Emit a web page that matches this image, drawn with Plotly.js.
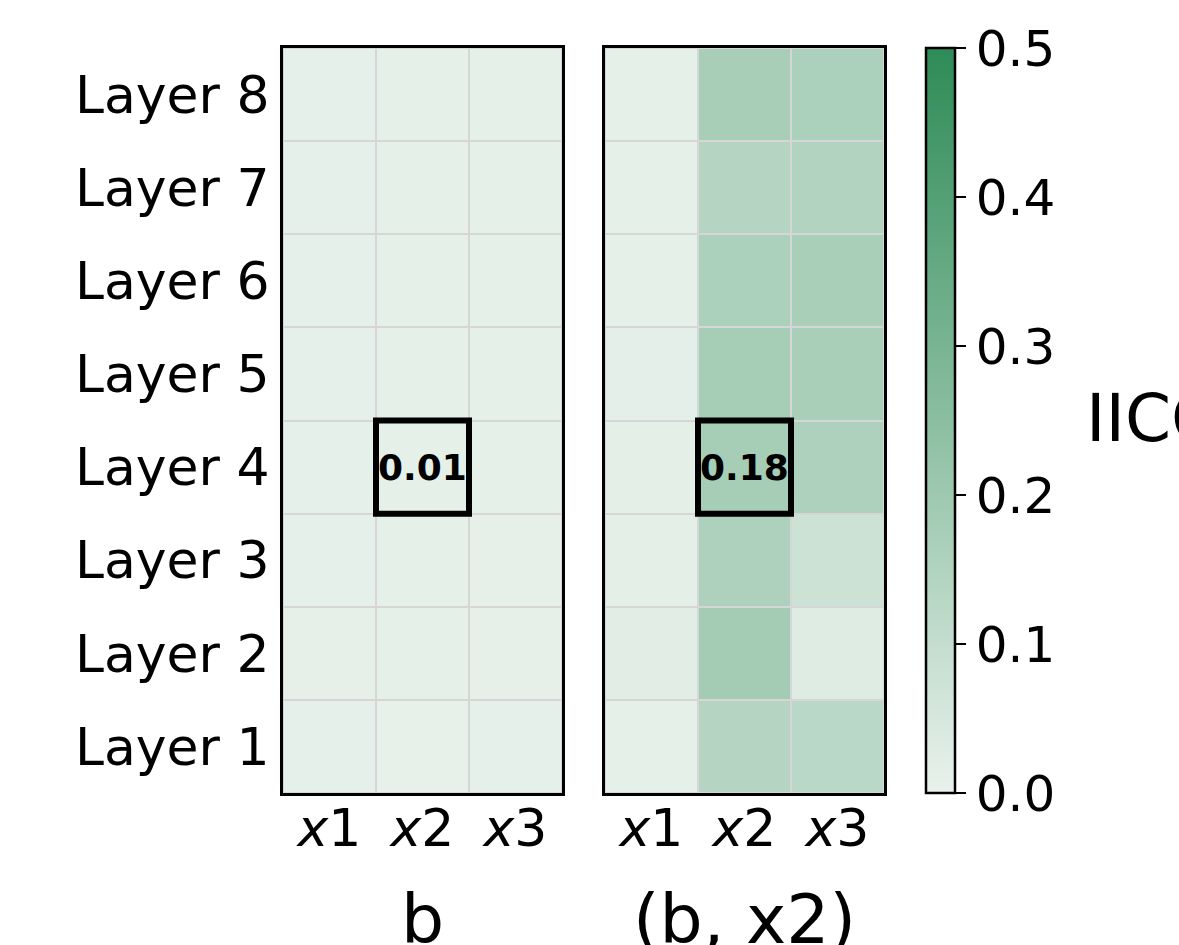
<!DOCTYPE html>
<html>
<head>
<meta charset="utf-8">
<script src="https://cdn.plot.ly/plotly-3.0.1.min.js"></script>
<style>
  html, body { margin: 0; padding: 0; background: #fff; }
  #chart { width: 1179px; height: 945px; }
</style>
</head>
<body>
<div id="chart"></div>
<script>
// Input features (columns) and layers (rows, bottom to top)
const features = ['x1', 'x2', 'x3'];
const featureLabels = ['<i>x</i>1', '<i>x</i>2', '<i>x</i>3'];
const layers = ['Layer 1', 'Layer 2', 'Layer 3', 'Layer 4', 'Layer 5', 'Layer 6', 'Layer 7', 'Layer 8'];

// Panel titles
const panelTitles = ['b', '(b, x2)'];
const colorbarTitle = 'IICC';

// Scores for target "b": one row per layer, columns x1, x2, x3
const scoresB = [
  [0.008, 0.006, 0.008],
  [0.009, 0.012, 0.009],
  [0.008, 0.011, 0.009],
  [0.008, 0.010, 0.011],
  [0.008, 0.012, 0.010],
  [0.008, 0.011, 0.010],
  [0.008, 0.012, 0.011],
  [0.008, 0.012, 0.011]
];

// Scores for pair "(b, x2)"
const scoresBX2 = [
  [0.010, 0.140, 0.125],
  [0.022, 0.185, 0.030],
  [0.016, 0.160, 0.080],
  [0.016, 0.180, 0.160],
  [0.015, 0.180, 0.170],
  [0.012, 0.165, 0.170],
  [0.010, 0.140, 0.150],
  [0.012, 0.175, 0.165]
];

// Highlighted cell (feature, layer)
const highlightFeature = 'x2';
const highlightLayer = 'Layer 4';

const W = 1179, H = 945;
const px = v => v / W;
const py = v => 1 - v / H;

const FONT = 'DejaVu Sans, Liberation Sans, sans-serif';

const colorscale = [
  [0, 'rgb(233,242,236)'],
  [1, 'rgb(46,139,87)']
];

function heat(z, xa, ya) {
  return {
    type: 'heatmap',
    x: features,
    y: layers,
    z: z,
    coloraxis: 'coloraxis',
    xaxis: xa,
    yaxis: ya,
    xgap: 2,
    ygap: 2,
    hoverinfo: 'skip'
  };
}

const data = [
  heat(scoresB, 'x', 'y'),
  heat(scoresBX2, 'x2', 'y2')
];

const yDomain = [py(793), py(48)];

function xAxis(domain, anchor) {
  return {
    domain: domain,
    anchor: anchor,
    type: 'category',
    range: [-0.5, 2.5],
    tickvals: features,
    ticktext: featureLabels,
    ticks: '',
    ticklabelstandoff: -12,
    tickfont: { family: FONT, size: 52, color: '#000' },
    showline: true,
    mirror: true,
    linecolor: '#000',
    linewidth: 3,
    showgrid: false,
    zeroline: false,
    fixedrange: true
  };
}

function yAxis(anchor, showLabels) {
  return {
    domain: yDomain,
    anchor: anchor,
    type: 'category',
    range: [-0.5, 7.5],
    tickvals: layers,
    ticktext: layers,
    showticklabels: showLabels,
    ticks: '',
    ticklabelstandoff: 0,
    tickfont: { family: FONT, size: 52, color: '#000' },
    showline: true,
    mirror: true,
    linecolor: '#000',
    linewidth: 3,
    showgrid: false,
    zeroline: false,
    fixedrange: true
  };
}

const hx = features.indexOf(highlightFeature);
const hy = layers.indexOf(highlightLayer);

const panels = [
  { z: scoresB, xref: 'x', yref: 'y', center: (283 + 562) / 2 },
  { z: scoresBX2, xref: 'x2', yref: 'y2', center: (605 + 884) / 2 }
];

const shapes = panels.map(p => ({
  type: 'rect',
  xref: p.xref, yref: p.yref,
  x0: hx - 0.5, x1: hx + 0.5,
  y0: hy - 0.5, y1: hy + 0.5,
  line: { color: '#000', width: 6 },
  fillcolor: 'rgba(0,0,0,0)'
}));

const annotations = [];
panels.forEach((p, i) => {
  annotations.push({
    xref: p.xref, yref: p.yref,
    x: highlightFeature, y: highlightLayer,
    text: '<b>' + p.z[hy][hx].toFixed(2) + '</b>',
    showarrow: false,
    font: { family: FONT, size: 36, color: '#000' }
  });
  annotations.push({
    xref: 'paper', yref: 'paper',
    x: px(p.center), y: py(945),
    xanchor: 'center', yanchor: 'bottom',
    text: panelTitles[i],
    showarrow: false,
    yshift: -16,
    font: { family: FONT, size: 68, color: '#000' }
  });
});
annotations.push({
  xref: 'paper', yref: 'paper',
  x: px(1084), y: py(418),
  xanchor: 'left', yanchor: 'middle',
  text: colorbarTitle,
  showarrow: false,
  font: { family: FONT, size: 66, color: '#000' }
});

const layout = {
  width: W,
  height: H,
  margin: { l: 0, r: 0, t: 0, b: 0 },
  paper_bgcolor: '#fff',
  plot_bgcolor: '#d6d6d6',
  showlegend: false,
  font: { family: FONT, color: '#000' },
  xaxis: xAxis([px(283), px(562)], 'y'),
  yaxis: yAxis('x', true),
  xaxis2: xAxis([px(605), px(884)], 'y2'),
  yaxis2: yAxis('x2', false),
  coloraxis: {
    cmin: 0,
    cmax: 0.5,
    colorscale: colorscale,
    colorbar: {
      x: px(926),
      xanchor: 'left',
      y: yDomain[0],
      yanchor: 'bottom',
      len: yDomain[1] - yDomain[0],
      lenmode: 'fraction',
      thickness: 29,
      thicknessmode: 'pixels',
      xpad: 0,
      ypad: 0,
      outlinewidth: 2.5,
      outlinecolor: '#000',
      tickvals: [0, 0.1, 0.2, 0.3, 0.4, 0.5],
      tickformat: '.1f',
      ticks: 'outside',
      ticklen: 10,
      tickwidth: 2,
      tickcolor: '#000',
      tickfont: { family: FONT, size: 50, color: '#000' }
    }
  },
  shapes: shapes,
  annotations: annotations
};

Plotly.newPlot('chart', data, layout, { displayModeBar: false, staticPlot: true });
</script>
</body>
</html>
